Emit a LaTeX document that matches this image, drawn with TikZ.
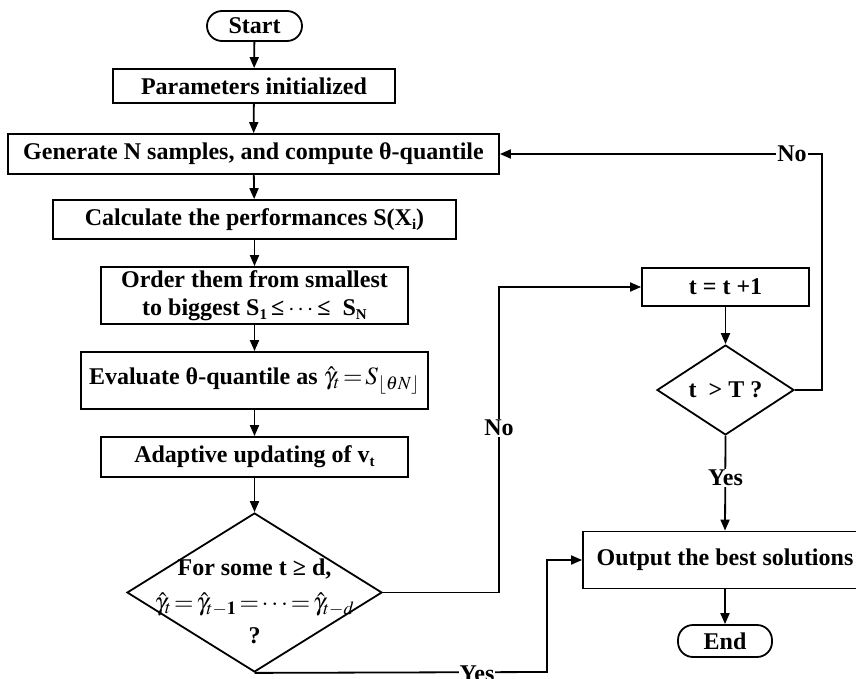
\documentclass[tikz,border=0pt]{standalone}
\usepackage{mathptmx}
\usepackage{fontspec}
\setmainfont{Liberation Serif}
\usetikzlibrary{arrows.meta,shapes.geometric}
\newcommand\lsub[1]{\raisebox{-0.35ex}{\fontsize{15}{15}\selectfont #1}}
\begin{document}
\begin{tikzpicture}[x=1pt,y=-1pt,
  box/.style={draw, line width=1.8pt, fill=white, inner sep=0pt, align=center,
    font=\fontsize{24}{28}\selectfont\bfseries},
  term/.style={box, rounded corners=15pt},
  dia/.style={draw, diamond, line width=1.8pt, inner sep=0pt},
  txt/.style={inner sep=0pt, align=center, font=\fontsize{24}{28}\selectfont\bfseries},
  arr/.style={line width=1.8pt, -{Triangle[length=11pt,width=9pt]}},
  lbl/.style={fill=white, inner sep=1pt, font=\fontsize{24}{28}\selectfont\bfseries}]
\useasboundingbox (0,0) rectangle (856,679);
\begin{scope}
\clip (0,0) rectangle (856,679);
\node[term, minimum width=95pt, minimum height=30pt] (start) at (254.5,26) {Start};
\node[box, minimum width=282pt, minimum height=34pt] (param) at (254,86) {Parameters initialized};
\node[box, minimum width=491pt, minimum height=40pt] (gen) at (253.5,154) {Generate N samples, and compute θ-quantile};
\node[box, minimum width=403pt, minimum height=39pt] (calc) at (254.5,219.5) {Calculate the performances S(X\lsub{i})};
\node[box, minimum width=307pt, minimum height=57pt] (order) at (254.5,295.5) {Order them from smallest\\to biggest S\lsub{1}\,≤\,$\cdots$\,≤ \ S\lsub{N}};
\node[box, minimum width=347pt, minimum height=57pt] (eval) at (254.5,380.5) {Evaluate θ-quantile as {\fontsize{25}{28}\selectfont$\hat{\gamma}_t\! = \! S_{\lfloor\theta N\rfloor}$}};
\node[box, minimum width=307pt, minimum height=40pt] (adapt) at (254.5,457) {Adaptive updating of v\lsub{t}};
\node[dia, minimum width=255pt, minimum height=159pt] (dia1) at (254.5,592.5) {};
\node[txt] (dia1t) at (254.5,601) {For some t ≥ d,\\[7pt] {\fontsize{25}{28}\selectfont$\hat{\gamma}_t\!=\!\hat{\gamma}_{t-\mathbf{1}}\!=\!\cdots\!=\!\hat{\gamma}_{t-d}$}\\[5pt] ?};
\node[box, minimum width=167pt, minimum height=38pt] (tplus) at (725.5,287) {t = t +1};
\node[dia, minimum width=137pt, minimum height=82pt, font=\fontsize{24}{28}\selectfont\bfseries] (dia2) at (725.5,390) {t \ > T ?};
\node[box, minimum width=284pt, minimum height=57pt] (out) at (725,560) {Output the best solutions};
\node[term, minimum width=94pt, minimum height=32pt] (end) at (725,641) {End};
\end{scope}
\draw[arr] (start) -- (param);
\draw[arr] (param) -- (gen);
\draw[arr] (gen) -- (calc);
\draw[arr] (calc) -- (order);
\draw[arr] (order) -- (eval);
\draw[arr] (eval) -- (adapt);
\draw[arr] (adapt) -- (dia1);
\coordinate (n1) at (499,592.5);
\coordinate (n2) at (499,287);
\draw[arr] (dia1.east) -- (n1) -- (n2) -- (tplus.west);
\node[lbl] (no1) at (499,428) {No};
\coordinate (y1) at (547,672);
\draw[arr] (dia1.south) -- (y1) |- (out.west);
\node[lbl] (yes1) at (477,674) {Yes};
\draw[arr] (tplus) -- (dia2);
\coordinate (r1) at (822,390);
\coordinate (r2) at (822,154);
\draw[arr] (dia2.east) -- (r1) -- (r2) -- (gen.east);
\node[lbl] (no2) at (792,154) {No};
\draw[arr] (dia2.south) -- (out.north);
\node[lbl] (yes2) at (725.5,478) {Yes};
\draw[arr] (out) -- (end);
\end{tikzpicture}
\end{document}
